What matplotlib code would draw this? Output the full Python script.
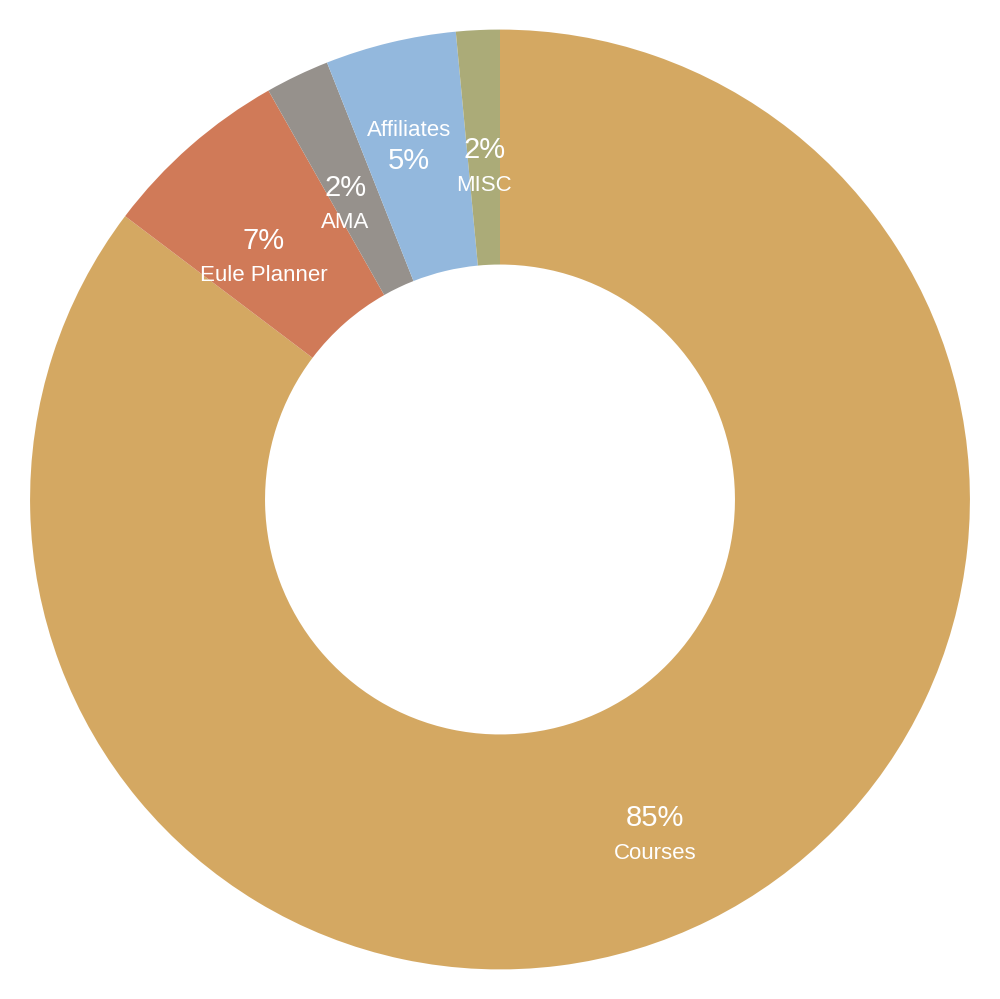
import numpy as np
import matplotlib.pyplot as plt

plt.rcParams['font.family'] = ['Liberation Sans', 'DejaVu Sans']

# data (clockwise from 12 o'clock)
kategori = ["Courses", "Eule Planner", "AMA", "Affiliates", "MISC"]
nilai = [85.3, 6.5, 2.2, 4.5, 1.5]
label_persen = ["85%", "7%", "2%", "5%", "2%"]
warna = ["#D4A862", "#D07A58", "#96918C", "#93B8DD", "#ABAB78"]

# label layout: radius of the label block, small angle tweak (deg),
# and whether the name sits on top of the percent
radius_label = [0.781, 0.724, 0.714, 0.784, 0.714]
geser_sudut = [1.5, -2.8, -1.9, -0.8, 0.0]
nama_di_atas = [False, False, False, True, False]

fig = plt.figure(figsize=(10, 9.99), dpi=100)
ax = fig.add_axes([0, 0, 1, 1])

wedges, _ = ax.pie(nilai, colors=warna, startangle=90, counterclock=False,
                   radius=1.0, wedgeprops=dict(width=0.5, linewidth=0))

total = sum(nilai)
mulai = 0.0
for i, nama in enumerate(kategori):
    tengah = mulai + nilai[i] / 2
    mulai += nilai[i]
    sudut = np.deg2rad(90 - (tengah / total * 360 + geser_sudut[i]))
    x = radius_label[i] * np.cos(sudut)
    y = radius_label[i] * np.sin(sudut)
    if nama_di_atas[i]:
        off_pct, off_nama = -13.2, 8.4
    else:
        off_pct, off_nama = 10.2, -15
    ax.annotate(label_persen[i], (x, y), xytext=(0, off_pct), textcoords='offset points',
                ha='center', va='center', color='white', fontsize=21)
    ax.annotate(nama, (x, y), xytext=(0, off_nama), textcoords='offset points',
                ha='center', va='center', color='white', fontsize=16)

ax.set_xlim(-1.064, 1.064)
ax.set_ylim(-1.0625, 1.0625)
ax.set_aspect('equal')
ax.axis('off')

fig.savefig("out.png", dpi=100, facecolor='white')
